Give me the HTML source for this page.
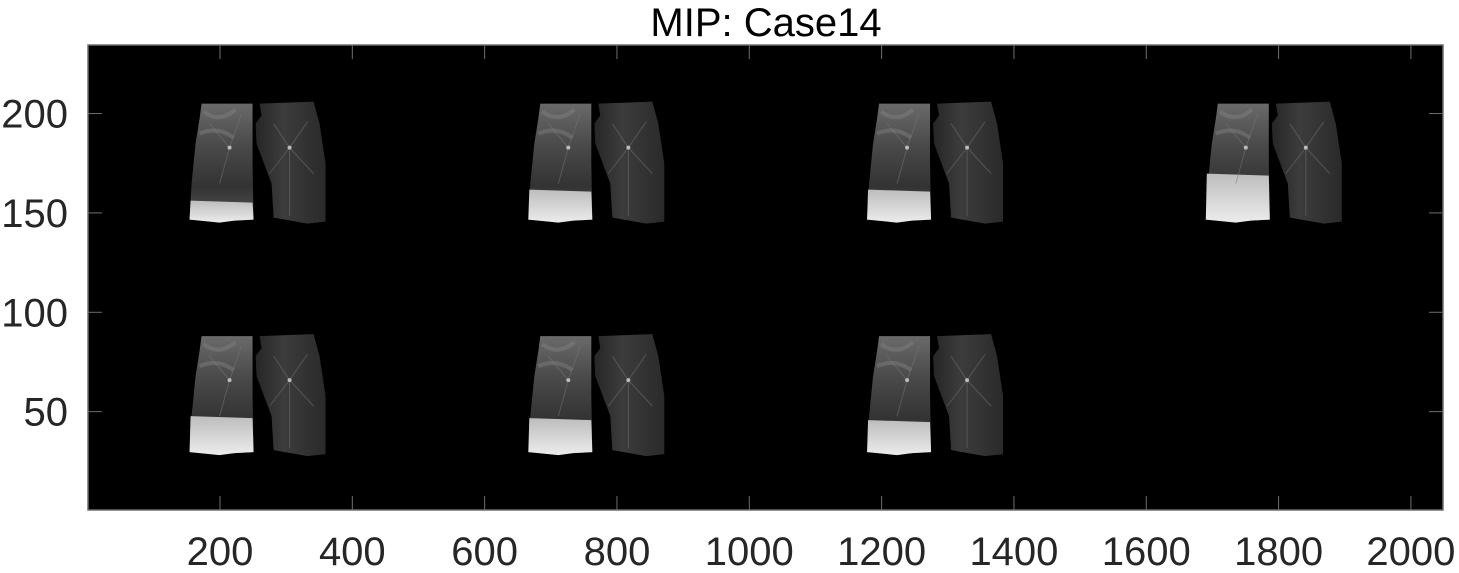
<!DOCTYPE html>
<html><head><meta charset="utf-8">
<style>
html,body{margin:0;padding:0;background:#fff;}
svg{display:block;font-family:"Liberation Sans",sans-serif;}
</style></head>
<body>
<svg id="chart" width="1459" height="573" viewBox="0 0 1459 573" xmlns="http://www.w3.org/2000/svg">
<defs>
<linearGradient id="gL" x1="0" y1="0" x2="0" y2="1">
<stop offset="0" stop-color="#6a6a6a"/><stop offset="0.35" stop-color="#4a4a4a"/><stop offset="0.7" stop-color="#333"/><stop offset="1" stop-color="#555"/>
</linearGradient>
<linearGradient id="gR" x1="0" y1="0" x2="1" y2="0">
<stop offset="0" stop-color="#262626"/><stop offset="0.4" stop-color="#3c3c3c"/><stop offset="1" stop-color="#2a2a2a"/>
</linearGradient>
<linearGradient id="gB" x1="0" y1="0" x2="0" y2="1">
<stop offset="0" stop-color="#bdbdbd"/><stop offset="1" stop-color="#ececec"/>
</linearGradient>
</defs>
<text x="766" y="36" font-size="40" text-anchor="middle" fill="#000">MIP: Case14</text>
<rect x="88" y="45" width="1355" height="465" fill="#000"/>
<g id="panels"></g>
<g id="axes"></g>
</svg>
<script>
const xTicks = [200,400,600,800,1000,1200,1400,1600,1800,2000];
const yTicks = [50,100,150,200];
const panelCols = [0,1,2,3,0,1,2];
const panelRows = [0,0,0,0,1,1,1];
const brightTop = [97,86,86,70,80,82,84];
const xLim = [0.5,2048.5], yLim = [0.5,234.5];
const L=88,R=1443,T=45,B=510;
function xs(v){return L+(v-xLim[0])/(xLim[1]-xLim[0])*(R-L);}
function ys(v){return B-(v-yLim[0])/(yLim[1]-yLim[0])*(B-T);}
const NS="http://www.w3.org/2000/svg";
function mk(tag,attrs,parent){const e=document.createElementNS(NS,tag);for(const k in attrs)e.setAttribute(k,attrs[k]);parent.appendChild(e);return e;}
const panels=document.getElementById('panels');
const leftPts="12,0 63,0 63,60 64,116 45,117 30,118 0,116 2,80 6,40 10,15";
const rightPts="70,0 124,-2 130,20 136,60 136,118 118,120 84,114 82,80 67,40 66,20 72,12";
panelCols.forEach((c,i)=>{
  const px=xs(154+c*512), py=ys(panelRows[i]===0?205:88);
  const g=mk('g',{transform:`translate(${px},${py})`},panels);
  
  
  const l=mk('polygon',{points:leftPts,fill:'url(#gL)'},g);
  
  
  const bt=brightTop[i];
  const b=mk('path',{d:`M1,${bt} L63,${bt+2} L64,116 L45,117 L30,119 L0,116 Z`,fill:'url(#gB)'},g);
  
  
  const r=mk('polygon',{points:rightPts,fill:'url(#gR)'},g);
  
  
  const v=mk('g',{stroke:'#777','stroke-width':'1',fill:'none',opacity:'0.5'},g);
  [[100,44,100,112],[100,44,84,20],[100,44,118,18],[100,44,124,70],[100,44,80,70],[40,44,20,20],[40,44,52,10],[40,44,30,80]].forEach(s=>mk('line',{x1:s[0],y1:s[1],x2:s[2],y2:s[3]},v));
  mk('circle',{cx:100,cy:44,r:2,fill:'#bbb'},g);
  mk('circle',{cx:40,cy:44,r:2,fill:'#bbb'},g);
  mk('path',{d:'M14,8 Q30,20 46,6 M10,30 Q28,22 44,34',stroke:'#888','stroke-width':4,fill:'none',opacity:0.4},g);
});
const axes=document.getElementById('axes');
const frame=mk('rect',{x:L,y:T,width:R-L,height:B-T,fill:'none',stroke:'#6e6e6e','stroke-width':1.5},axes);


xTicks.forEach(t=>{
  const x=xs(t);
  mk('line',{x1:x,y1:B,x2:x,y2:B-14,stroke:'#6e6e6e','stroke-width':1},axes);
  mk('line',{x1:x,y1:T,x2:x,y2:T+14,stroke:'#6e6e6e','stroke-width':1},axes);
  const tx=mk('text',{x:x,y:B+55,'font-size':40,'text-anchor':'middle',fill:'#262626'},axes);
  tx.textContent=t;
  
  
});
yTicks.forEach(t=>{
  const y=ys(t);
  mk('line',{x1:L,y1:y,x2:L+14,y2:y,stroke:'#6e6e6e','stroke-width':1},axes);
  mk('line',{x1:R,y1:y,x2:R-14,y2:y,stroke:'#6e6e6e','stroke-width':1},axes);
  const tx=mk('text',{x:L-20,y:y+14,'font-size':40,'text-anchor':'end',fill:'#262626'},axes);
  tx.textContent=t;
  
  
});
</script>
</body></html>
